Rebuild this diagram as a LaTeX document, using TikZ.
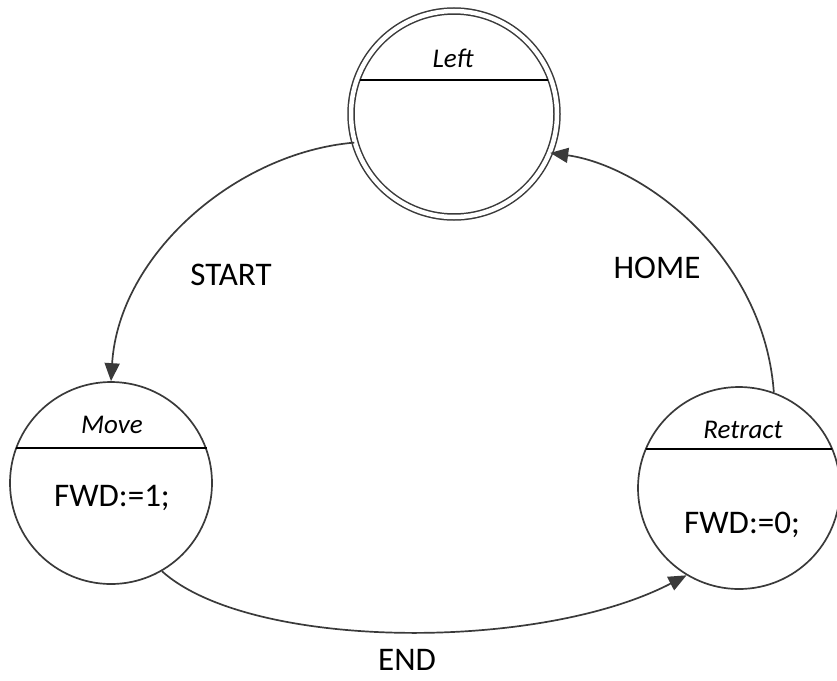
\documentclass[tikz,border=0pt]{standalone}
\usepackage{fontspec}
\setmainfont{Carlito}
\usetikzlibrary{arrows.meta,calc}
\definecolor{ink}{HTML}{3A3A3A}
\tikzset{
  state/.style={circle, draw=ink, line width=1.7pt, minimum size=202pt, inner sep=0pt},
  initstate/.style={state, double=white, double distance=4.5pt, line width=1.5pt, minimum size=206pt},
  divider/.style={draw=black, line width=1.9pt},
  trans/.style={draw=ink, line width=1.7pt, -{Triangle[length=18pt,width=15pt]}},
  statename/.style={font=\fontsize{27}{30}\selectfont\itshape, inner sep=0pt},
  action/.style={font=\fontsize{33}{36}\selectfont, inner sep=0pt},
  evt/.style={font=\fontsize{33}{36}\selectfont, inner sep=0pt}
}
\begin{document}
\begin{tikzpicture}[x=1pt,y=-1pt]
  \useasboundingbox (0,0) rectangle (837,680);

  % states
  \node[initstate] (left) at (454,114) {};
  \node[state] (move) at (111,483) {};
  \node[state] (retract) at (739,488) {};

  % name compartments
  \draw[divider] ($(left.center)+(-94,-34)$) -- ($(left.center)+(94,-34)$);
  \draw[divider] ($(move.center)+(-95.5,-35)$) -- ($(move.center)+(95.5,-35)$);
  \draw[divider] ($(retract.center)+(-93,-39)$) -- ($(retract.center)+(93,-39)$);

  \node[statename] (leftname) at (453,58) {Left};
  \node[statename] (movename) at (112,425) {Move};
  \node[statename] (retractname) at (743,430) {Retract};

  \node[action] (moveact) at (112,498) {FWD:=1;};
  \node[action] (retractact) at (742,525) {FWD:=0;};

  % transitions
  \draw[trans] (left.196) .. controls +(-118,10) and +(8,-127) .. (move.north);
  \draw[trans] (move.300) .. controls +(88,79) and +(-148,77) .. (retract.239);
  \draw[trans] (retract.70) .. controls +(-10,-137) and +(93,13) .. (left.338);

  % events
  \node[evt] (startlbl) at (231,275) {START};
  \node[evt] (homelbl) at (657,268) {HOME};
  \node[evt] (endlbl) at (407,660) {END};
\end{tikzpicture}
\end{document}
